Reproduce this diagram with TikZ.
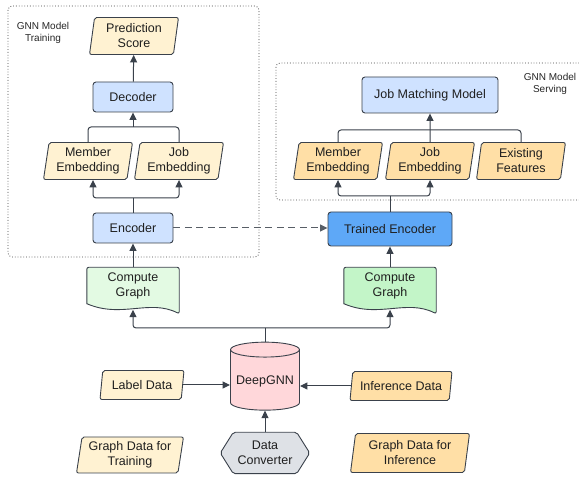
\documentclass[tikz,border=0pt]{standalone}
\usepackage{fontspec}
\setmainfont{Liberation Sans}
\usetikzlibrary{shapes.geometric,arrows.meta,calc}
\definecolor{edge}{HTML}{3A414B}
\definecolor{blueL}{HTML}{CFE2FF}
\definecolor{blueD}{HTML}{5EA8F7}
\definecolor{creamL}{HTML}{FFF2D2}
\definecolor{orangeL}{HTML}{FFDFA6}
\definecolor{greenL}{HTML}{E3FAE3}
\definecolor{greenD}{HTML}{C3F5C8}
\definecolor{pinkL}{HTML}{FFD7DA}
\definecolor{grayL}{HTML}{DEE1E6}
\tikzset{
  base/.style={font=\fontsize{12.5}{15}\selectfont, text=black!88, align=center, inner sep=1pt},
  blk/.style={base, rectangle, rounded corners=3pt, draw=edge, line width=0.9pt, fill=blueL, minimum width=80pt, minimum height=30pt},
  para/.style={base, trapezium, trapezium left angle=79, trapezium right angle=101, trapezium stretches body=true, draw=edge, line width=0.9pt, rounded corners=2pt, minimum width=89pt, minimum height=37pt},
  hidden/.style={base, rectangle, minimum width=#1},
  ln/.style={draw=edge, line width=1pt, rounded corners=3pt},
  arr/.style={ln, -{Triangle[length=7.5pt,width=7pt]}},
  grp/.style={draw=black!75, dotted, line width=0.8pt, rounded corners=4pt},
  lbl/.style={font=\fontsize{10}{12}\selectfont, text=black!85, align=center, inner sep=0pt},
}
\begin{document}
\begin{tikzpicture}[x=1pt,y=-1pt]
\useasboundingbox (0,0) rectangle (579,478);
\clip (0,0) rectangle (579,478);
% groups
\draw[grp] (8,6) rectangle (259,257);
\draw[grp] (276,63) rectangle (595,200);
\node[lbl] (tl) at (43,33) {GNN Model\\Training};
\node[lbl] (sl) at (550,84) {GNN Model\\Serving};
% training
\node[para, fill=creamL] (pred) at (134,36) {Prediction\\Score};
\node[blk] (dec) at (133,97) {Decoder};
\node[para, fill=creamL] (mem1) at (88,161) {Member\\Embedding};
\node[para, fill=creamL] (job1) at (179,161) {Job\\Embedding};
\node[blk] (enc) at (133,228) {Encoder};
% serving
\node[blk, minimum width=136pt, minimum height=36pt] (jmm) at (430,95) {Job Matching Model};
\node[para, fill=orangeL] (mem2) at (338,161) {Member\\Embedding};
\node[para, fill=orangeL] (job2) at (430,161) {Job\\Embedding};
\node[para, fill=orangeL] (ex) at (521,161) {Existing\\Features};
\node[blk, fill=blueD, minimum width=124pt, minimum height=34pt] (tenc) at (390,229) {Trained Encoder};
% compute graphs
\node[hidden=92pt, minimum height=37pt] (cgL) at (133,286) {Compute\\Graph};
\node[hidden=92pt, minimum height=37pt] (cgR) at (390,286) {Compute\\Graph};
\foreach \n/\c in {cgL/greenL, cgR/greenD}{
  \draw[draw=edge, line width=0.9pt, fill=\c, rounded corners=2pt]
    ($(\n.north west)+(0,5)$) -- (\n.north west) -- (\n.north east) -- ($(\n.south east)+(0,9)$) [sharp corners]
    .. controls ($(\n.south east)+(-30,-6)$) and ($(\n.south west)+(35,14)$) .. ($(\n.south west)+(0,-1)$) [rounded corners=2pt] -- cycle;
  \node[hidden=92pt, minimum height=37pt] at (\n) {Compute\\Graph};
}
% bottom
\node[base, cylinder, shape border rotate=90, aspect=0.25, draw=edge, line width=0.9pt, fill=pinkL, minimum width=69pt, minimum height=68pt] (dg) at (265,381) {DeepGNN};
\node[para, fill=creamL, minimum width=84pt, minimum height=29pt, trapezium left angle=76, trapezium right angle=104] (lab) at (142,385) {Label Data};
\node[para, fill=orangeL, minimum width=102pt, minimum height=29pt, trapezium left angle=76, trapezium right angle=104] (inf) at (401,386) {Inference Data};
\node[para, fill=creamL, minimum width=107pt, minimum height=36pt] (gdt) at (130,455) {Graph Data for\\Training};
\node[para, fill=orangeL, minimum width=119pt, minimum height=39pt] (gdi) at (410,453) {Graph Data for\\Inference};
\node[hidden=89pt, minimum height=41pt] (dc) at (265,453) {Data\\Converter};
\draw[draw=edge, line width=0.9pt, fill=grayL, rounded corners=2pt]
  (dc.west) -- ($(dc.north west)+(13,0)$) -- ($(dc.north east)+(-13,0)$) -- (dc.east) -- ($(dc.south east)+(-13,0)$) -- ($(dc.south west)+(13,0)$) -- cycle;
\node[hidden=89pt, minimum height=41pt] at (dc) {Data\\Converter};
% connectors training
\draw[arr] (dec) -- (pred);
\coordinate (jt) at (133,127);
\draw[ln] (mem1.north) |- (jt) -| (job1.north);
\draw[arr] (jt) -- (dec.south);
\coordinate (je) at (133,198);
\draw[ln] (enc.north) -- (je);
\draw[arr] (je) -| ([xshift=5pt]mem1.south);
\draw[arr] (je) -| (job1.south);
% connectors serving
\coordinate (js) at (430,130);
\draw[ln] (mem2.north) |- (js) -| (ex.north);
\draw[arr] (job2.north) -- (jmm.south);
\coordinate (jte) at (390,196);
\draw[ln] (tenc.north) -- (jte);
\draw[arr] (jte) -| (mem2.south);
\draw[arr] (jte) -| (job2.south);
\draw[arr, dash pattern=on 7pt off 4.5pt, draw=edge!85] (enc.east) -- (enc.east -| tenc.west);
% compute graph connectors
\draw[arr] (cgL.north) -- (enc.south);
\draw[arr] (cgR.north) -- (tenc.south);
\coordinate (jd) at (265,328);
\draw[ln] (dg.top) -- (jd);
\draw[arr] (jd) -| ($(cgL.south)+(0,5)$);
\draw[arr] (jd) -| ($(cgR.south)+(0,5)$);
% bottom connectors
\draw[arr] (lab.east) -- (lab.east -| dg.west);
\draw[arr] (inf.west) -- (inf.west -| dg.east);
\draw[arr] (dc.north) -- (dg.bottom);
\end{tikzpicture}
\end{document}
